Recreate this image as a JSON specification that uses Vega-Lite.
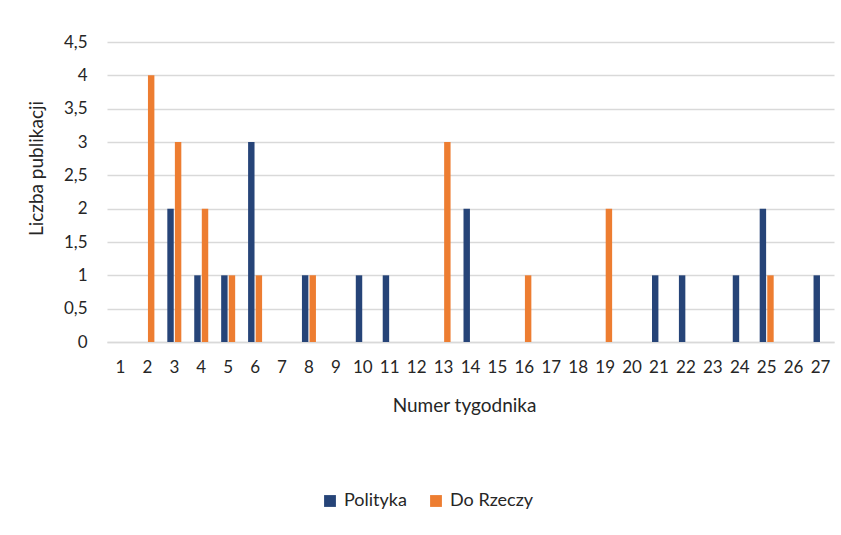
{
  "$schema": "https://vega.github.io/schema/vega-lite/v6.json",
  "width": 727,
  "height": 300,
  "autosize": {"type": "none"},
  "padding": {"left": 107, "top": 42, "right": 7, "bottom": 193},
  "background": "white",
  "data": {
    "values": [
      {"tydzien": "3", "seria": "Polityka", "n": 2},
      {"tydzien": "4", "seria": "Polityka", "n": 1},
      {"tydzien": "5", "seria": "Polityka", "n": 1},
      {"tydzien": "6", "seria": "Polityka", "n": 3},
      {"tydzien": "8", "seria": "Polityka", "n": 1},
      {"tydzien": "10", "seria": "Polityka", "n": 1},
      {"tydzien": "11", "seria": "Polityka", "n": 1},
      {"tydzien": "14", "seria": "Polityka", "n": 2},
      {"tydzien": "21", "seria": "Polityka", "n": 1},
      {"tydzien": "22", "seria": "Polityka", "n": 1},
      {"tydzien": "24", "seria": "Polityka", "n": 1},
      {"tydzien": "25", "seria": "Polityka", "n": 2},
      {"tydzien": "27", "seria": "Polityka", "n": 1},
      {"tydzien": "2", "seria": "Do Rzeczy", "n": 4},
      {"tydzien": "3", "seria": "Do Rzeczy", "n": 3},
      {"tydzien": "4", "seria": "Do Rzeczy", "n": 2},
      {"tydzien": "5", "seria": "Do Rzeczy", "n": 1},
      {"tydzien": "6", "seria": "Do Rzeczy", "n": 1},
      {"tydzien": "8", "seria": "Do Rzeczy", "n": 1},
      {"tydzien": "13", "seria": "Do Rzeczy", "n": 3},
      {"tydzien": "16", "seria": "Do Rzeczy", "n": 1},
      {"tydzien": "19", "seria": "Do Rzeczy", "n": 2},
      {"tydzien": "25", "seria": "Do Rzeczy", "n": 1}
    ]
  },
  "mark": {"type": "bar"},
  "encoding": {
    "x": {
      "field": "tydzien",
      "type": "ordinal",
      "scale": {
        "domain": ["1","2","3","4","5","6","7","8","9","10","11","12","13","14","15","16","17","18","19","20","21","22","23","24","25","26","27"],
        "paddingInner": 0.48,
        "paddingOuter": 0.24
      },
      "axis": {
        "title": "Numer tygodnika",
        "labelAngle": 0,
        "labelFontSize": 17,
        "labelColor": "#262626",
        "labelPadding": 17,
        "ticks": false,
        "domainColor": "#D9D9D9",
        "domainWidth": 1.5,
        "titleFontSize": 19,
        "titleFontWeight": "normal",
        "titleColor": "#262626",
        "titlePadding": 21,
        "titleX": 357
      }
    },
    "xOffset": {
      "field": "seria",
      "type": "nominal",
      "scale": {"domain": ["Polityka", "Do Rzeczy"], "paddingInner": 0.15}
    },
    "y": {
      "field": "n",
      "type": "quantitative",
      "scale": {"domain": [0, 4.5], "nice": false},
      "axis": {
        "title": "Liczba publikacji",
        "values": [0, 0.5, 1, 1.5, 2, 2.5, 3, 3.5, 4, 4.5],
        "labelExpr": "replace(toString(datum.value), '.', ',')",
        "labelFontSize": 17,
        "labelColor": "#262626",
        "labelPadding": 20,
        "ticks": false,
        "domain": false,
        "gridColor": "#D9D9D9",
        "gridWidth": 1.5,
        "titleFontSize": 19,
        "titleFontWeight": "normal",
        "titleColor": "#262626",
        "titlePadding": 17,
        "titleY": 126
      }
    },
    "color": {
      "field": "seria",
      "type": "nominal",
      "scale": {"domain": ["Polityka", "Do Rzeczy"], "range": ["#264478", "#ED7D31"]},
      "legend": {
        "title": null,
        "orient": "none",
        "direction": "horizontal",
        "legendX": 214,
        "legendY": 450,
        "symbolType": "square",
        "symbolSize": 140,
        "symbolStrokeWidth": 0,
        "labelFontSize": 18,
        "labelColor": "#262626",
        "columnPadding": 20,
        "labelOffset": 5
      }
    }
  },
  "config": {
    "font": "Lato",
    "view": {"stroke": null}
  }
}
